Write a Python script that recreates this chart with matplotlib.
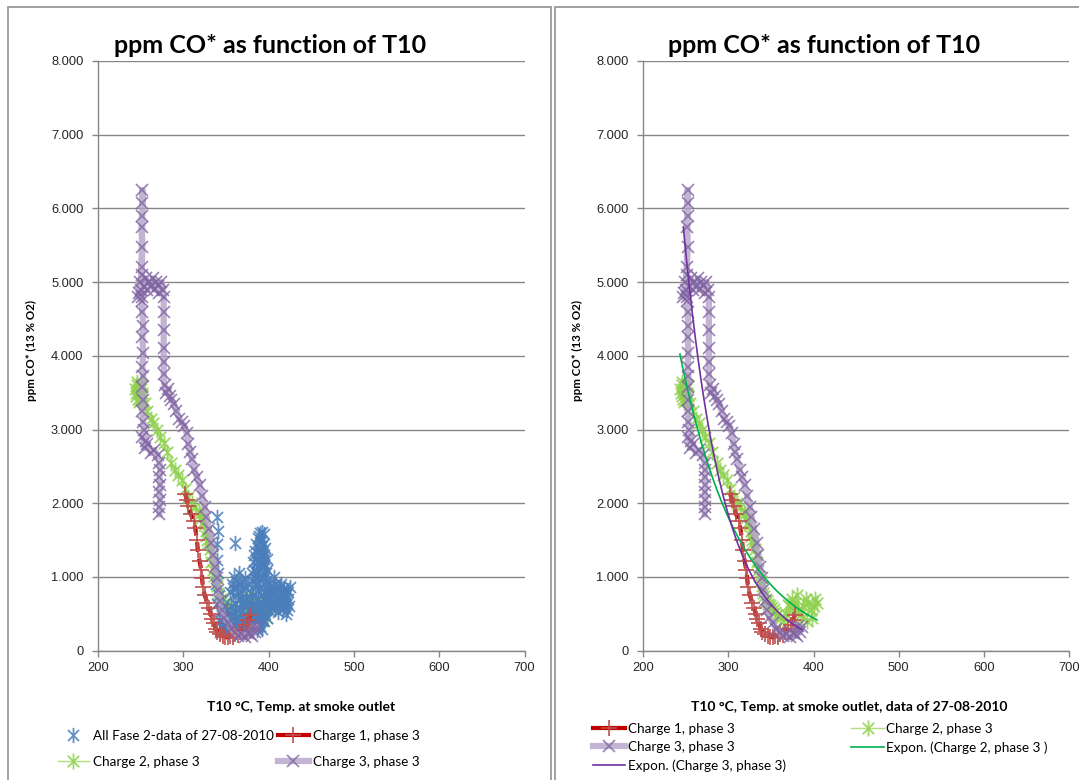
import numpy as np
import matplotlib
matplotlib.use("Agg")
import matplotlib.pyplot as plt
from matplotlib.path import Path
from matplotlib.patches import Rectangle
from matplotlib.lines import Line2D
from matplotlib.ticker import FuncFormatter

plt.rcParams["lines.scale_dashes"] = False

# ---------------- data ----------------
title_text = "ppm CO* as function of T10"
ylabel_text = "ppm CO* (13 % O2)"
xlabel_left = "T10 \u00b0C, Temp. at smoke outlet"
xlabel_right = "T10 \u00b0C, Temp. at smoke outlet, data of 27-08-2010"

label_all = "All Fase 2-data of 27-08-2010"
label_c1 = "Charge 1, phase 3"
label_c2 = "Charge 2, phase 3"
label_c3 = "Charge 3, phase 3"
label_e2 = "Expon. (Charge 2, phase 3 )"
label_e3 = "Expon. (Charge 3, phase 3)"

x_ticks = [200, 300, 400, 500, 600, 700]
y_ticks = [0, 1000, 2000, 3000, 4000, 5000, 6000, 7000, 8000]

# Charge 1, phase 3
c1_T = [302, 304, 306, 309, 312, 314, 316, 317, 319, 321, 322, 323, 325, 328,
        330, 332, 334, 336, 338, 340, 343, 346, 349, 352, 355, 358, 361, 364,
        367, 370, 373, 376, 378]
c1_CO = [2130, 2050, 1960, 1850, 1760, 1660, 1500, 1360, 1220, 1090, 980, 860,
         760, 650, 580, 500, 430, 370, 300, 260, 220, 200, 190, 180, 200, 190,
         230, 210, 260, 300, 350, 420, 480]

# Charge 2, phase 3
c2_T = [245, 247, 249, 251, 246, 250, 248, 252, 244, 249, 243, 246, 248, 250,
        252, 247, 255, 258, 262, 265,
        269, 273, 277, 281, 286, 290, 294, 298, 302, 306, 310, 314, 318, 320,
        321, 323, 324, 326, 327, 328, 329, 331, 332, 333, 335, 336, 338, 339,
        341, 342, 344, 345, 347, 349, 351, 353, 355, 357, 360, 364, 368, 372,
        375, 378, 382, 385, 388, 391, 394, 397, 400, 402, 404, 398, 392, 386,
        380, 376, 370]
c2_CO = [3450, 3550, 3400, 3500, 3600, 3620, 3380, 3450, 3500, 3480, 3550, 3650,
         3500, 3550, 3600, 3420, 3360, 3250,
         3150, 3090, 3000, 2900, 2820, 2700, 2545, 2450, 2380, 2316, 2200, 2086,
         2000, 1950, 1880, 1850, 1800, 1750, 1700, 1620, 1560, 1500, 1457, 1380,
         1300, 1200, 1095, 1020, 950, 880, 778, 740, 700, 680, 640, 620, 597,
         560, 520, 480, 450, 400, 500, 600, 700, 650, 550, 500, 600, 700, 650,
         550, 600, 700, 650, 450, 400, 450, 750, 550, 620]

# Charge 3, phase 3
c3_T = [272, 272, 273, 272, 273, 272, 273, 272, 270, 266, 262, 258, 255, 252,
        254, 256, 253, 252, 253, 252, 253, 252, 253, 252, 253, 252, 251, 251,
        252, 251, 252, 252, 252, 251, 250, 248, 247, 249, 251, 254, 256, 258,
        260, 262, 264, 266, 268, 270, 272, 274, 276, 277, 277, 277, 277, 277,
        277, 278, 280, 282, 284, 286, 289, 292, 295, 298, 301, 304, 306, 308,
        310, 313, 316, 319, 322, 325, 327, 330, 333, 335, 337, 339, 341, 343,
        345, 348, 352, 356, 360, 364, 368, 372, 376, 380, 384, 386, 382, 378]
c3_CO = [1850, 1950, 2050, 2150, 2250, 2350, 2450, 2550, 2650, 2720, 2680, 2800,
         2750, 2900, 3000, 2850, 3100, 3250, 3400, 3580, 3720, 3850, 4040, 4260,
         4400, 4600, 4800, 5100, 5480, 5750, 6070, 6250, 5900, 5200, 4900, 4850,
         4800, 5000, 4750, 4950, 5050, 4900, 5000, 4950, 5050, 4900, 5000, 4950,
         4850, 5000, 4900, 4800, 4600, 4350, 4100, 3920, 3750, 3600, 3500, 3550,
         3450, 3400, 3350, 3250, 3150, 3100, 3050, 2950, 2800, 2700, 2600, 2450,
         2350, 2250, 2100, 1950, 1820, 1650, 1460, 1300, 1140, 980, 830, 680,
         550, 450, 380, 300, 250, 200, 230, 180, 240, 200, 260, 320, 330, 220]

# All Fase 2-data of 27-08-2010
all_T = [339, 341, 340, 339, 341, 338, 342, 340, 344, 342, 347,
         360, 392, 406, 421, 425,
         357, 359, 362, 365, 367, 370, 372, 358, 361, 364, 368, 371, 374, 356, 360, 366,
         355, 358, 363, 366, 369, 373, 376, 375, 362, 370,
         345, 348, 350, 352, 355, 357, 360, 363, 366, 369, 372, 375, 378, 381, 384,
         387, 390, 393, 396, 351, 354, 347, 370, 380,
         343, 346, 349, 353, 356, 359, 362, 365, 368, 371, 374, 377, 380, 383, 386,
         389, 392, 395, 398,
         380, 382, 384, 386, 388, 390, 391, 393, 395, 394, 392, 390, 388, 386, 392,
         396, 397, 398, 389, 387, 385, 383, 381, 379, 378, 394, 396, 398, 384, 395,
         391, 389, 393, 377, 382,
         381, 383, 385, 387, 389, 391, 393, 395, 397, 383, 385, 387, 390, 392, 394,
         396, 398, 380, 382, 384, 386, 388, 390, 392, 394, 396, 389, 391, 393, 387,
         400, 402, 404, 406, 408, 410, 412, 414, 416, 418, 420, 422, 419, 415, 411,
         423, 403, 409, 417, 399, 401, 405,
         401, 403, 405, 407, 409, 411, 413, 415, 417, 419, 421, 423, 407, 413, 420,
         424, 398, 400]
all_CO = [1820, 1620, 1450, 1230, 1050, 900, 760, 640, 520, 420, 350,
          1460, 1610, 1000, 550, 870,
          900, 1000, 950, 1050, 900, 820, 980, 750, 650, 780, 700, 600, 700, 600, 520, 560,
          800, 850, 870, 700, 950, 850, 900, 600, 560, 680,
          320, 380, 460, 320, 400, 300, 350, 440, 300, 380, 290, 340, 420, 300, 380,
          450, 330, 420, 500, 550, 300, 600, 480, 520,
          260, 430, 300, 500, 350, 430, 260, 380, 320, 420, 260, 380, 340, 430, 280,
          380, 300, 400, 450,
          600, 750, 900, 1050, 1200, 1350, 1500, 1450, 1300, 1150, 1000, 850, 700, 550, 650,
          800, 950, 1100, 1550, 1400, 1250, 1100, 950, 800, 700, 1580, 1400, 1250, 600, 600,
          1200, 1000, 850, 550, 450,
          400, 520, 680, 820, 1120, 1280, 1350, 1180, 1050, 1300, 1450, 1530, 1600, 1420, 1250,
          1000, 760, 1050, 1200, 1350, 900, 1000, 1180, 560, 720, 680, 480, 420, 560, 350,
          700, 800, 650, 750, 850, 700, 600, 800, 700, 850, 750, 650, 600, 900, 520,
          800, 580, 620, 560, 850, 900, 870,
          620, 720, 680, 560, 780, 680, 720, 620, 800, 700, 820, 700, 900, 860, 500,
          600, 650, 550]

# ---------------- styling ----------------
W, H = 1079, 780
fig = plt.figure(figsize=(W / 100, H / 100), dpi=100)
fig.patch.set_facecolor("white")


def fx(px):
    return px / W


def fy(py):
    return 1 - py / H


CAL = ["Lato", "DejaVu Sans"]
ARI = ["Liberation Sans", "DejaVu Sans"]
GRID = "#868686"

star = Path([(0, -1), (0, 1), (-0.72, -0.72), (0.72, 0.72), (-0.72, 0.72), (0.72, -0.72)],
            [Path.MOVETO, Path.LINETO] * 3)

# chart frames
for (x0, x1) in [(8, 551), (555, 1095)]:
    fig.patches.append(Rectangle((fx(x0), fy(795)), fx(x1) - fx(x0), fy(7) - fy(795),
                                 transform=fig.transFigure, fill=False,
                                 edgecolor="#9a9a9a", linewidth=1.3, zorder=0))

fmt = FuncFormatter(lambda v, p: f"{int(round(v)):,}".replace(",", "."))


def setup_axes(ax):
    ax.set_xlim(200, 700)
    ax.set_ylim(0, 8000)
    ax.set_xticks(x_ticks)
    ax.set_yticks(y_ticks)
    ax.yaxis.set_major_formatter(fmt)
    for s in ["top", "right"]:
        ax.spines[s].set_visible(False)
    for s in ["left", "bottom"]:
        ax.spines[s].set_color(GRID)
        ax.spines[s].set_linewidth(1.0)
    ax.yaxis.grid(True, color=GRID, linewidth=1.0)
    ax.set_axisbelow(True)
    ax.tick_params(axis="both", direction="out", length=4, width=1.0, color=GRID,
                   labelcolor="#262626", labelsize=9.3)
    ax.tick_params(axis="y", pad=6.5)
    ax.tick_params(axis="x", pad=4)
    for lab in ax.get_xticklabels() + ax.get_yticklabels():
        lab.set_family(ARI)


def expfit(x, y):
    b, lna = np.polyfit(np.asarray(x, float), np.log(np.asarray(y, float)), 1)
    xs = np.linspace(min(x), max(x), 200)
    return xs, np.exp(lna + b * xs)


c1_style = dict(color="#c00000", linewidth=3.0, marker="+", markersize=11,
                markeredgewidth=1.2, markeredgecolor="#c0504d")


def draw_series(ax, with_all):
    h = {}
    h["c2"], = ax.plot(c2_T, c2_CO, color="#a6d96a", linewidth=1.0, marker=star,
                       markersize=11.5, markeredgewidth=1.3, markeredgecolor="#8fd14f",
                       alpha=0.85, zorder=3, label=label_c2)
    if with_all:
        h["all"], = ax.plot(all_T, all_CO, linestyle="none", marker=star, markersize=11,
                            markeredgewidth=1.3, markeredgecolor="#4a7ebb", alpha=0.85,
                            zorder=4, label=label_all)
    ax.plot(c1_T, c1_CO, dashes=(7, 5), zorder=5, **c1_style)
    h["c1"] = Line2D([], [], **c1_style)
    h["c3"], = ax.plot(c3_T, c3_CO, color="#b3a2c7", linewidth=4.5, marker="x",
                       markersize=8, markeredgewidth=1.2, markeredgecolor="#8064a2",
                       alpha=0.8, zorder=6, label=label_c3)
    return h


# left axes
axL = fig.add_axes([fx(98), fy(650.7), fx(524.6) - fx(98), fy(61) - fy(650.7)])
setup_axes(axL)
hL = draw_series(axL, True)

# right axes
axR = fig.add_axes([fx(643.3), fy(650.7), fx(1069) - fx(643.3), fy(61) - fy(650.7)])
setup_axes(axR)
hR = draw_series(axR, False)
t2x, t2y = expfit(c2_T, c2_CO)
t3x, t3y = expfit(c3_T, c3_CO)
e2, = axR.plot(t2x, t2y, color="#00b050", linewidth=1.2, zorder=8, label=label_e2)
e3, = axR.plot(t3x, t3y, color="#7030a0", linewidth=1.2, zorder=8, label=label_e3)

# titles and axis labels
for cx in (270, 824):
    fig.text(fx(cx), fy(53), title_text, ha="center", va="baseline",
             fontsize=18, fontweight="bold", family=CAL)
for cx in (31, 577):
    fig.text(fx(cx), fy(351), ylabel_text, ha="center", va="center", rotation=90,
             fontsize=8.3, fontweight="bold", family=CAL)
fig.text(fx(301), fy(707), xlabel_left, ha="center", va="center",
         fontsize=10, fontweight="bold", family=CAL)
fig.text(fx(849), fy(707), xlabel_right, ha="center", va="center",
         fontsize=10, fontweight="bold", family=CAL)

# legends
legL = fig.legend([hL["all"], hL["c2"], hL["c1"], hL["c3"]],
                  [label_all, label_c2, label_c1, label_c3],
                  loc="upper left", bbox_to_anchor=(fx(58), fy(730)), ncol=2,
                  frameon=False, borderpad=0, borderaxespad=0, handlelength=2.3,
                  handletextpad=0.3, columnspacing=0.3, labelspacing=1.05,
                  prop={"family": CAL, "size": 9.7})
legR = fig.legend([hR["c1"], hR["c3"], e3, hR["c2"], e2],
                  [label_c1, label_c3, label_e3, label_c2, label_e2],
                  loc="upper left", bbox_to_anchor=(fx(593), fy(723)), ncol=2,
                  frameon=False, borderpad=0, borderaxespad=0, handlelength=2.4,
                  handletextpad=0.2, columnspacing=4.85, labelspacing=0.45,
                  prop={"family": CAL, "size": 9.7})

fig.savefig("out.png", dpi=100)
